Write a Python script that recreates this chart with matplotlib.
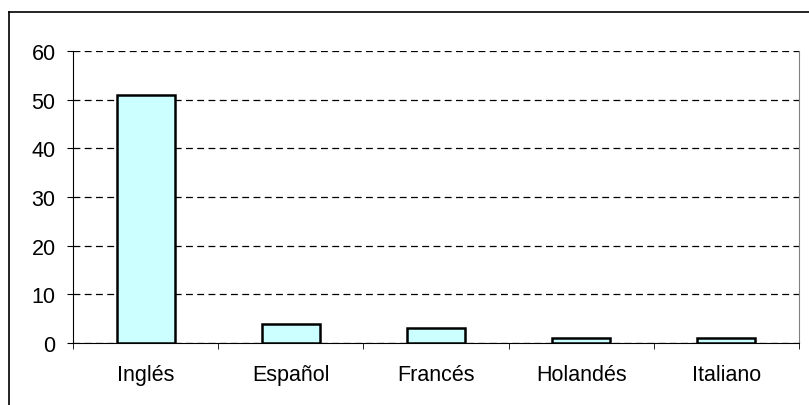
import matplotlib.pyplot as plt
from matplotlib.lines import Line2D

categories = ["Inglés", "Español", "Francés", "Holandés", "Italiano"]
values = [51, 4, 3, 1, 1]
y_ticks = [0, 10, 20, 30, 40, 50, 60]

plt.rcParams["font.family"] = ["Liberation Sans", "DejaVu Sans"]

fig = plt.figure(figsize=(8.09, 4.06), dpi=100)
ax = fig.add_axes([73 / 809, 1 - 344 / 406, (799 - 73) / 809, (344 - 52) / 406])

# outer chart border (only left and top visible in the frame)
fig.add_artist(Line2D([9 / 809, 9 / 809], [0, 1 - 13 / 406], color="black", lw=1.2))
fig.add_artist(Line2D([9 / 809, 1], [1 - 13 / 406, 1 - 13 / 406], color="black", lw=1.2))

x = list(range(len(categories)))
ax.bar(x, values, width=0.4, color="#CCFFFF", edgecolor="black", linewidth=1.8, zorder=3)

ax.set_xlim(-0.5, len(categories) - 0.5)
ax.set_ylim(0, 60)
ax.set_yticks(y_ticks)
ax.set_xticks(x)
ax.set_xticklabels(categories)
ax.set_xticks([i - 0.5 for i in range(len(categories) + 1)], minor=True)

ax.yaxis.grid(True, color="black", linestyle=(0, (5.5, 3.5)), linewidth=0.9)
ax.set_axisbelow(True)

ax.spines["top"].set_visible(False)
ax.spines["right"].set_color("#808080")
ax.spines["left"].set_color("black")
ax.spines["bottom"].set_color("black")

ax.tick_params(axis="x", which="major", length=0, pad=15, labelsize=15.5)
ax.tick_params(axis="x", which="minor", length=4.5, direction="out", color="black")
ax.tick_params(axis="y", length=4.5, direction="out", pad=8, labelsize=15.5)

fig.savefig("out.png", dpi=100)
